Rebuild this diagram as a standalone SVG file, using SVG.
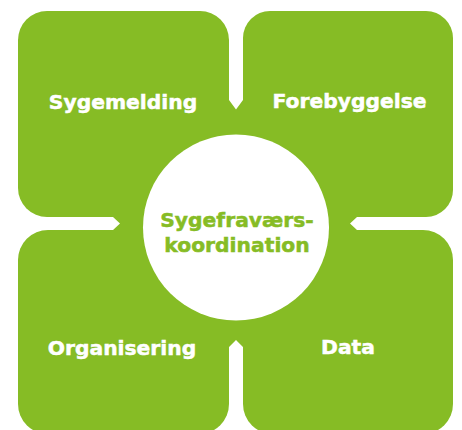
<svg xmlns="http://www.w3.org/2000/svg" width="462" height="430" viewBox="0 0 462 430">
  <style>
    .box { fill: #86BC25; }
    .lbl { font-family: "DejaVu Sans", Verdana, sans-serif; font-weight: bold; font-size: 20.3px; fill: #ffffff; stroke: #ffffff; stroke-width: 0.5; text-anchor: middle; }
    .ctr { font-family: "DejaVu Sans", Verdana, sans-serif; font-weight: bold; font-size: 20.3px; fill: #86BC25; stroke: #86BC25; stroke-width: 0.5; text-anchor: middle; }
  </style>
  <rect width="462" height="430" fill="#ffffff"/>
  <g id="node-sygemelding">
    <rect class="box" x="18" y="11" width="211" height="206" rx="29" ry="29"/>
    <text class="lbl" x="123" y="109">Sygemelding</text>
  </g>
  <g id="node-forebyggelse">
    <rect class="box" x="243" y="11" width="210" height="206" rx="27" ry="27"/>
    <text class="lbl" x="349.5" y="108">Forebyggelse</text>
  </g>
  <g id="node-organisering">
    <rect class="box" x="18" y="230" width="211" height="204" rx="30" ry="30"/>
    <text class="lbl" x="122" y="355">Organisering</text>
  </g>
  <g id="node-data">
    <rect class="box" x="243" y="230" width="210" height="204" rx="30" ry="30"/>
    <text class="lbl" x="348" y="354">Data</text>
  </g>
  <g id="connectors">
    <polygon class="box" points="229,100 236,109.5 243,100 243,217 357,217 350,223.5 357,230 243,230 243,347 236,340 229,347 229,230 113,230 120,223.5 113,217 229,217"/>
  </g>
  <g id="node-center">
    <circle cx="236" cy="227.5" r="93" fill="#ffffff"/>
    <text class="ctr" x="237" y="227">Sygefraværs-</text>
    <text class="ctr" x="237" y="252">koordination</text>
  </g>
</svg>
